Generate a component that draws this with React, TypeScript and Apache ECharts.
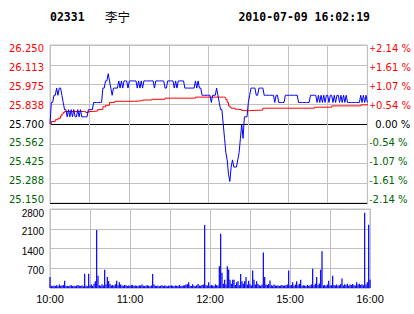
import React, { useEffect, useRef } from "react";
import * as echarts from "echarts";

const stockCode = "02331";
const stockName = "李宁";
const timestamp = "2010-07-09 16:02:19";
const prevClose = 25.7;
const priceStep = 0.1375;

const priceLabels = ["25.150", "25.288", "25.425", "25.562", "25.700", "25.838", "25.975", "26.113", "26.250"];
const pctLabels = ["2.14", "1.61", "1.07", "0.54", "0.00", "0.54", "1.07", "1.61", "2.14"];
const timeTicks = [0, 60, 120, 180, 240];
const timeLabels = ["10:00", "11:00", "12:00", "15:00", "16:00"];

// last price, one per minute (10:00 .. 12:30, 14:30 .. 16:00)
const prices = [
  25.70, 25.85, 25.85, 25.90, 25.90, 25.95, 25.90, 25.95, 25.95, 25.90,
  25.85, 25.80, 25.80, 25.75, 25.80, 25.75, 25.80, 25.75, 25.80, 25.75,
  25.75, 25.80, 25.75, 25.80, 25.75, 25.75, 25.75, 25.75, 25.75, 25.80,
  25.80, 25.80, 25.80, 25.85, 25.85, 25.85, 25.85, 25.85, 25.85, 25.85,
  25.95, 25.95, 26.00, 26.00, 26.05, 26.00, 25.95, 25.90, 25.95, 25.95,
  25.95, 25.95, 26.00, 25.95, 26.00, 25.95, 26.00, 26.00, 26.00, 25.95,
  26.00, 26.00, 26.00, 26.00, 26.00, 26.00, 25.95, 26.00, 25.95, 26.00,
  25.95, 26.00, 26.00, 26.00, 26.00, 26.00, 26.00, 26.00, 26.00, 25.95,
  26.00, 26.00, 26.00, 26.00, 26.00, 26.00, 26.00, 25.95, 25.95, 26.00,
  26.00, 26.00, 26.00, 26.00, 25.95, 26.00, 25.95, 26.00, 26.00, 26.00,
  26.00, 26.00, 25.95, 25.95, 25.95, 25.95, 25.95, 25.95, 25.95, 25.95,
  26.00, 25.95, 26.00, 25.95, 25.95, 25.90, 25.90, 25.90, 25.90, 25.90,
  25.90, 25.90, 25.85, 25.90, 25.90, 25.90, 25.95, 25.90, 25.85, 25.80,
  25.80, 25.70, 25.60, 25.50, 25.45, 25.35, 25.30, 25.40, 25.45, 25.40,
  25.40, 25.40, 25.45, 25.50, 25.60, 25.70, 25.60, 25.75, 25.75, 25.75,
  25.85, 25.90, 25.95, 25.95, 25.95, 25.95, 25.90, 25.90, 25.95, 25.95,
  25.95, 25.95, 25.90, 25.90, 25.90, 25.90, 25.90, 25.90, 25.90, 25.90,
  25.85, 25.90, 25.90, 25.85, 25.85, 25.85, 25.85, 25.85, 25.90, 25.90,
  25.90, 25.90, 25.90, 25.90, 25.90, 25.90, 25.90, 25.90, 25.85, 25.85,
  25.85, 25.85, 25.85, 25.85, 25.85, 25.85, 25.85, 25.90, 25.90, 25.90,
  25.90, 25.90, 25.85, 25.90, 25.85, 25.90, 25.85, 25.90, 25.85, 25.90,
  25.90, 25.85, 25.90, 25.90, 25.85, 25.90, 25.85, 25.90, 25.90, 25.85,
  25.90, 25.85, 25.90, 25.85, 25.90, 25.85, 25.85, 25.85, 25.85, 25.85,
  25.85, 25.85, 25.85, 25.85, 25.85, 25.90, 25.85, 25.90, 25.85, 25.90,
  25.85,
];

// average price, read at the minutes where it changes
const avgMinutes = [0, 1, 4, 6, 8, 9, 10, 11, 26, 27, 29, 32, 36, 40, 42, 45, 49, 64, 70, 77, 87, 110, 131, 132, 133, 134, 135, 136, 137, 140, 142, 145, 151, 161, 200, 213, 235, 240];
const avgPrices = [25.700, 25.717, 25.730, 25.740, 25.757, 25.770, 25.780, 25.787, 25.787, 25.780, 25.787, 25.790, 25.800, 25.820, 25.830, 25.850, 25.858, 25.862, 25.867, 25.872, 25.880, 25.887, 25.887, 25.883, 25.870, 25.850, 25.826, 25.817, 25.810, 25.803, 25.800, 25.793, 25.797, 25.810, 25.817, 25.826, 25.833, 25.840];

// volume per minute
const volumes = [
  390, 80, 60, 90, 70, 100, 60, 120, 80, 90,
  110, 255, 70, 80, 60, 90, 100, 70, 80, 60,
  90, 110, 80, 70, 100, 60, 505, 80, 60, 505,
  90, 120, 70, 150, 235, 2060, 430, 100, 80, 130,
  90, 650, 120, 390, 250, 140, 90, 110, 80, 130,
  255, 100, 200, 120, 90, 80, 110, 100, 70, 90,
  80, 100, 110, 70, 90, 80, 60, 100, 90, 120,
  80, 70, 90, 100, 80, 60, 90, 500, 120, 80,
  70, 90, 60, 80, 100, 70, 90, 80, 60, 90,
  70, 100, 80, 60, 90, 80, 70, 110, 60, 80,
  90, 100, 120, 130, 200, 90, 70, 130, 80, 60,
  100, 140, 90, 80, 110, 120, 2235, 100, 90, 200,
  80, 110, 90, 70, 130, 100, 90, 770, 1920, 540,
  150, 290, 120, 770, 660, 290, 150, 290, 290, 110,
  200, 240, 100, 500, 240, 150, 240, 390, 120, 255,
  130, 90, 620, 290, 120, 240, 140, 100, 80, 120,
  1260, 390, 120, 110, 140, 270, 100, 80, 120, 90,
  80, 100, 70, 90, 110, 80, 90, 100, 120, 620,
  90, 110, 200, 80, 120, 240, 100, 150, 290, 80,
  100, 90, 70, 110, 80, 90, 120, 680, 100, 150,
  390, 110, 160, 650, 1300, 90, 110, 80, 120, 255,
  90, 100, 430, 110, 90, 120, 80, 100, 140, 340,
  90, 130, 100, 150, 80, 120, 110, 140, 100, 90,
  200, 120, 150, 110, 130, 100, 2670, 120, 200, 2240,
  290,
];

export default function App() {
  const ref = useRef<HTMLDivElement>(null);

  useEffect(() => {
    if (!ref.current) return;
    const chart = echarts.init(ref.current, null, { renderer: "svg" });
    const toLevel = (p: number) => (p - prevClose) / priceStep;
    const priceData = prices.map((p, i) => [i, toLevel(p)]);
    const avgData = avgMinutes.map((m, i) => [m, toLevel(avgPrices[i])]);
    const volData = volumes.map((v, i) => [i, v]);

    const gray = "#c0c0c0";
    const red = "#ff0000";
    const green = "#006400";
    const font = "DejaVu Sans";

    // labels sit slightly closer to the centre line than the grid lines do
    const shiftPad = (i: number) => {
      const d = (i - 4) * 0.8; // px downward for upper labels
      return d >= 0 ? [2 * d, 0, 0, 0] : [0, 0, -2 * d, 0];
    };
    const colorOf = (i: number) => (i > 4 ? red : i < 4 ? green : "#000000");
    const rich: Record<string, any> = {};
    for (let i = 0; i < 9; i++) {
      const pad = shiftPad(i);
      rich[`p${i}`] = { color: colorOf(i), fontFamily: font, fontSize: 10, padding: pad };
      rich[`s${i}`] = { color: colorOf(i), fontFamily: font, fontSize: i > 4 ? 8 : 9, padding: pad };
      rich[`z${i}`] = { color: colorOf(i), fontFamily: font, fontSize: 10, padding: [pad[0], 0, pad[2], 6] };
    }
    const volRich: Record<string, any> = {
      v: { color: "#000000", fontFamily: "Liberation Sans", fontSize: 10, padding: [5, 0, 0, 0] },
      vt: { color: "#000000", fontFamily: "Liberation Sans", fontSize: 10, padding: [8, 0, 0, 0] },
    };

    chart.setOption({
      animation: false,
      backgroundColor: "#ffffff",
      grid: [
        { left: 50, top: 45, width: 320, height: 158, show: true, borderColor: gray, borderWidth: 1, backgroundColor: "transparent" },
        { left: 50, top: 209, width: 320, height: 79, show: true, borderColor: gray, borderWidth: 1, backgroundColor: "transparent" },
      ],
      xAxis: [
        {
          type: "value", gridIndex: 0, min: 0, max: 240, interval: 30,
          axisLine: { show: false }, axisTick: { show: false }, axisLabel: { show: false },
          splitLine: { show: true, lineStyle: { color: gray, width: 1 } },
        },
        {
          type: "value", gridIndex: 1, min: 0, max: 240, interval: 30,
          axisLine: { show: false }, axisTick: { show: false },
          axisLabel: {
            margin: 5, color: "#000000", fontFamily: "Liberation Sans", fontSize: 11,
            formatter: (v: number) => {
              const k = timeTicks.indexOf(Math.round(v));
              return k >= 0 ? timeLabels[k] : "";
            },
          },
          splitLine: { show: true, lineStyle: { color: gray, width: 1 } },
        },
      ],
      yAxis: [
        {
          type: "value", gridIndex: 0, min: -4, max: 4, interval: 1, position: "left",
          axisLine: { show: false }, axisTick: { show: false },
          axisLabel: {
            margin: 6, rich,
            formatter: (v: number) => {
              const i = Math.round(v) + 4;
              return `{p${i}|${priceLabels[i]}}`;
            },
          },
          splitLine: {
            show: true,
            lineStyle: { width: 1, color: ["#000000", gray, gray, gray, "#000000", gray, gray, gray, gray] },
          },
        },
        {
          type: "value", gridIndex: 0, min: -4, max: 4, interval: 1, position: "right",
          axisLine: { show: false }, axisTick: { show: false },
          axisLabel: {
            margin: 2, rich,
            formatter: (v: number) => {
              const i = Math.round(v) + 4;
              if (i > 4) return `{s${i}|+}{p${i}|${pctLabels[i]} %}`;
              if (i < 4) return `{s${i}|-}{p${i}|${pctLabels[i]} %}`;
              return `{z${i}|${pctLabels[i]} %}`;
            },
          },
          splitLine: { show: false },
        },
        {
          type: "value", gridIndex: 1, min: 0, max: 2800, interval: 700, position: "left",
          axisLine: { show: false }, axisTick: { show: false },
          axisLabel: {
            margin: 6, rich: volRich,
            formatter: (v: number) => (v === 0 ? "" : v === 2800 ? `{vt|${v}}` : `{v|${v}}`),
          },
          splitLine: { show: true, lineStyle: { color: gray, width: 1 } },
        },
      ],
      series: [
        {
          type: "bar", xAxisIndex: 1, yAxisIndex: 2, data: volData, barWidth: 1.2,
          itemStyle: { color: "#0000ff" }, silent: true,
        },
        {
          type: "line", xAxisIndex: 0, yAxisIndex: 0, data: avgData, step: "end",
          showSymbol: false, lineStyle: { color: red, width: 1 }, silent: true, z: 3,
        },
        {
          type: "line", xAxisIndex: 0, yAxisIndex: 0, data: priceData,
          showSymbol: false, lineStyle: { color: "#0000ff", width: 1 }, silent: true, z: 4,
        },
      ],
      graphic: [
        {
          type: "text", x: 50, y: 17,
          style: { text: stockCode, fontFamily: "DejaVu Sans Mono", fontWeight: "bold", fontSize: 11.5, fill: "#000000", align: "left", verticalAlign: "middle" },
        },
        {
          type: "text", x: 105, y: 16,
          style: { text: stockName, fontFamily: "Noto Sans CJK SC", fontSize: 12.5, fill: "#000000", align: "left", verticalAlign: "middle" },
        },
        {
          type: "text", x: 370, y: 17,
          style: { text: timestamp, fontFamily: "DejaVu Sans Mono", fontWeight: "bold", fontSize: 11.5, fill: "#000000", align: "right", verticalAlign: "middle" },
        },
      ],
    });

    return () => chart.dispose();
  }, []);

  return (
    <div
      ref={ref}
      style={{ position: "fixed", left: 0, top: 0, width: 414, height: 314, background: "#ffffff" }}
    />
  );
}
